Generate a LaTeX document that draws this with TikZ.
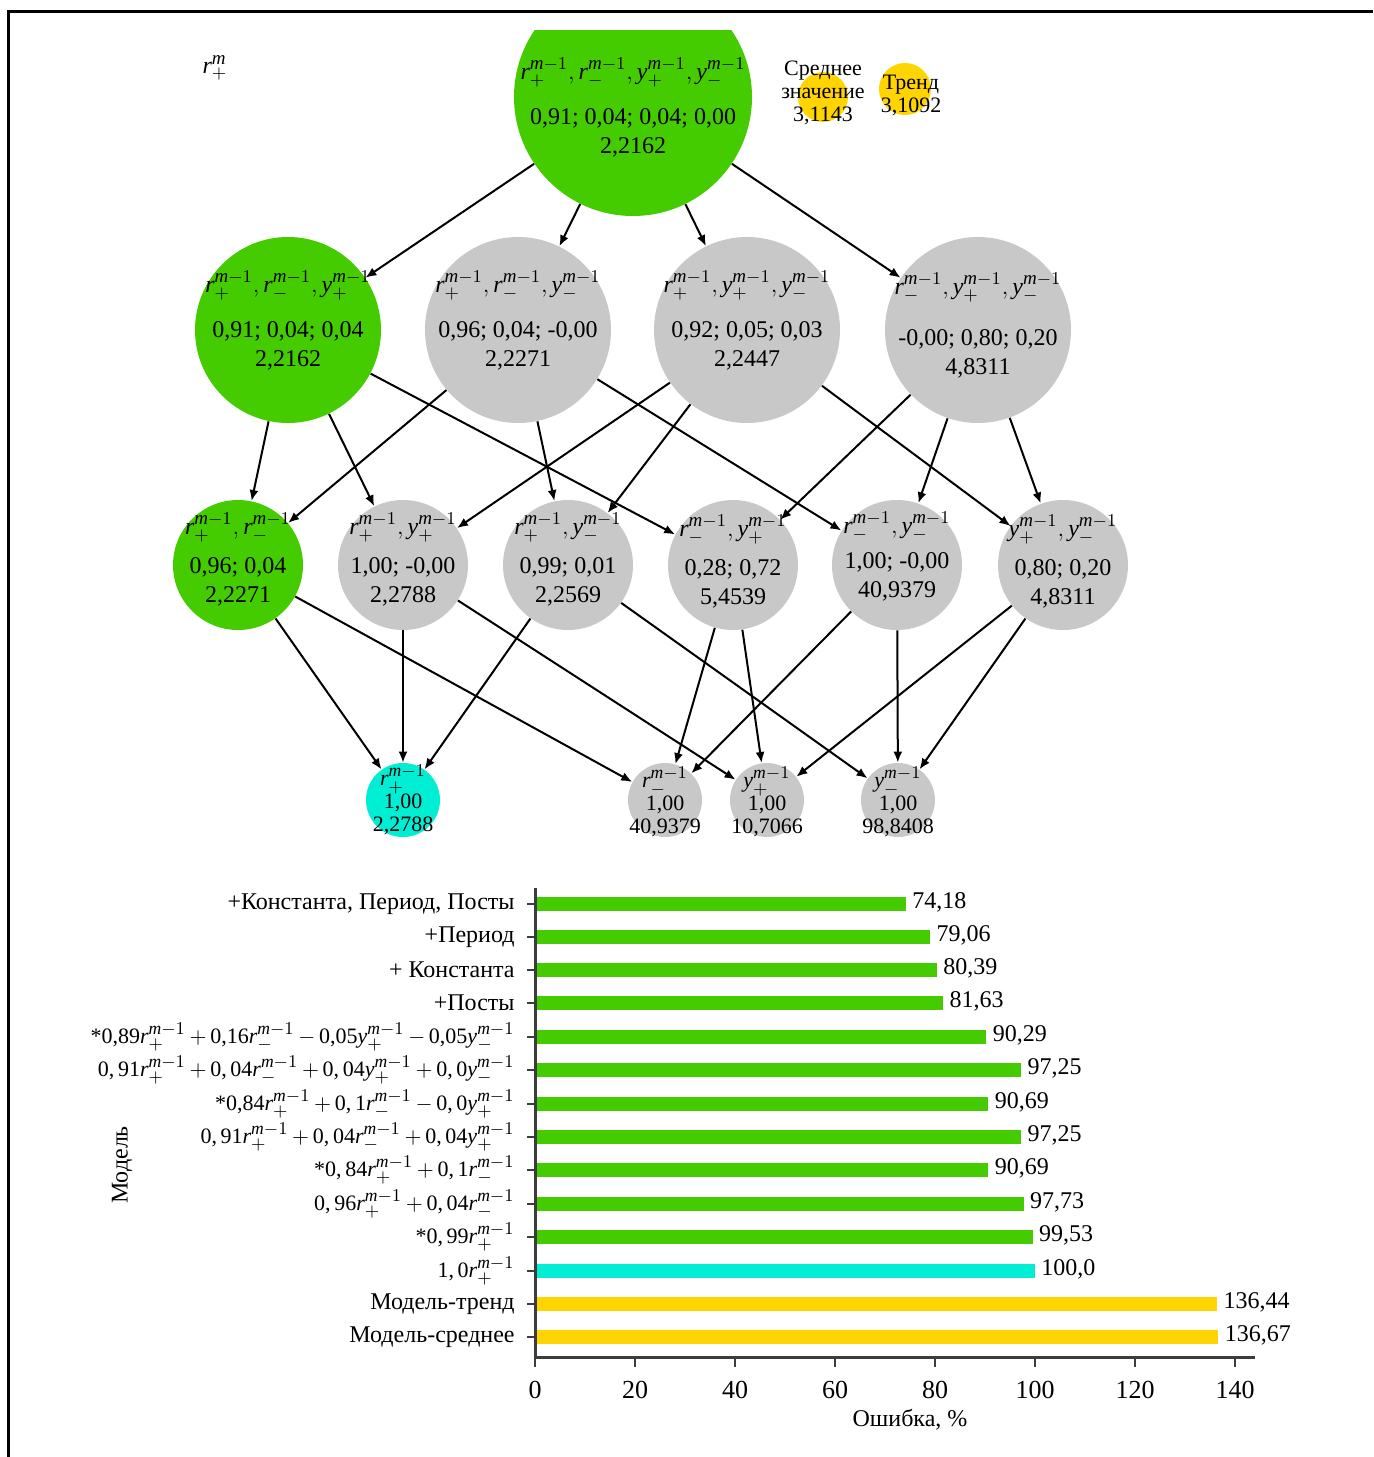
\documentclass[tikz,border=0pt]{standalone}
\usepackage{fontspec}
\setmainfont{Liberation Serif}
\usetikzlibrary{arrows.meta}
\DeclareMathSizes{12}{12}{9.5}{7}
\DeclareMathSizes{11}{11}{8.8}{6.5}
\definecolor{ngreen}{RGB}{68,204,0}
\definecolor{ngray}{RGB}{200,200,200}
\definecolor{ncyan}{RGB}{0,238,212}
\definecolor{nyellow}{RGB}{255,212,0}
\definecolor{axisgray}{RGB}{60,60,60}
% lagged variable: letter, sign
\newcommand\pv[2]{\mathit{#1}_{#2}^{\mathit{m}-1}}
% coefficient set in the text font
\newcommand\nm[1]{\mbox{#1}}
\newcommand\tightops{\medmuskip=3mu\relax}
% size of the formula labels of the chart
\newcommand\ml{\fontsize{11}{13}\selectfont}
\begin{document}
\begin{tikzpicture}[x=0.5pt,y=-0.5pt,
  every node/.style={inner sep=0pt},
  c1/.style={circle,minimum size=119pt},
  c2/.style={circle,minimum size=93pt},
  c3/.style={circle,minimum size=65pt},
  c4/.style={circle,minimum size=37pt},
  txt/.style={align=center,font=\fontsize{12}{14.5}\selectfont},
  txts/.style={align=center,font=\fontsize{11}{11.5}\selectfont},
  edge/.style={line width=1pt,-{Latex[length=5.5pt,width=4.5pt]}},
  lbl/.style={anchor=east,font=\fontsize{12}{14}\selectfont\tightops},
  val/.style={anchor=west,font=\fontsize{12}{14}\selectfont},
  tick/.style={font=\fontsize{13}{15}\selectfont},
]
\useasboundingbox (0,0) rectangle (1373,1457);
% frame
\draw[line width=1.5pt] (8,1457) -- (8,11) -- (1373,11);

% ---------- lattice of models ----------
\node[font=\fontsize{12}{14}\selectfont] (rm) at (215,68) {$\mathit{r}_+^{\mathit{m}}$};

\begin{scope}
  \clip (0,30) rectangle (1373,1457);
  \node[c1,fill=ngreen] (top) at (633,97) {};
\end{scope}
\node[txt] (top-t) at (633,108) {$\pv r+, \pv r-, \pv y+, \pv y-$\\[8pt] 0,91; 0,04; 0,04; 0,00\\ 2,2162};

\node[circle,minimum size=25pt,fill=nyellow] (avg) at (823,97) {};
\node[txts] (avg-t) at (823,93) {Среднее\\ значение\\ 3,1143};
\node[circle,minimum size=26pt,fill=nyellow] (trend) at (905,89) {};
\node[txts] (trend-t) at (911,95) {Тренд\\ 3,1092};

% second level
\node[c2,fill=ngreen] (A) at (288,330) {};
\node[c2,fill=ngray] (B) at (518,330) {};
\node[c2,fill=ngray] (C) at (747,330) {};
\node[c2,fill=ngray] (D) at (978,330) {};
\node[txt] (A-t) at (288,321) {$\pv r+,\pv r-,\pv y+$\\[8pt] 0,91; 0,04; 0,04\\ 2,2162};
\node[txt] (B-t) at (518,321) {$\pv r+,\pv r-,\pv y-$\\[8pt] 0,96; 0,04; -0,00\\ 2,2271};
\node[txt] (C-t) at (747,321) {$\pv r+,\pv y+,\pv y-$\\[8pt] 0,92; 0,05; 0,03\\ 2,2447};
\node[txt] (D-t) at (978,326) {$\pv r-,\pv y+,\pv y-$\\[11pt] -0,00; 0,80; 0,20\\ 4,8311};

% third level
\node[c3,fill=ngreen] (E) at (238,565) {};
\node[c3,fill=ngray] (F) at (403,565) {};
\node[c3,fill=ngray] (G) at (568,565) {};
\node[c3,fill=ngray] (H) at (733,565) {};
\node[c3,fill=ngray] (I) at (897,565) {};
\node[c3,fill=ngray] (J) at (1063,565) {};
\node[txt] (E-t) at (238,560) {$\pv r+,\pv r-$\\[5pt] 0,96; 0,04\\ 2,2271};
\node[txt] (F-t) at (403,560) {$\pv r+,\pv y+$\\[5pt] 1,00; -0,00\\ 2,2788};
\node[txt] (G-t) at (568,560) {$\pv r+,\pv y-$\\[5pt] 0,99; 0,01\\ 2,2569};
\node[txt] (H-t) at (733,562) {$\pv r-,\pv y+$\\[5pt] 0,28; 0,72\\ 5,4539};
\node[txt] (I-t) at (897,557) {$\pv r-,\pv y-$\\[3pt] 1,00; -0,00\\ 40,9379};
\node[txt] (J-t) at (1063,562) {$\pv y+,\pv y-$\\[5pt] 0,80; 0,20\\ 4,8311};

% fourth level
\node[c4,fill=ncyan] (K) at (403,800) {};
\node[c4,fill=ngray] (L) at (665,800) {};
\node[c4,fill=ngray] (M) at (767,800) {};
\node[c4,fill=ngray] (N) at (898,800) {};
\node[txts] (K-t) at (403,800) {$\pv r+$\\ 1,00\\ 2,2788};
\node[txts] (L-t) at (665,802) {$\pv r-$\\ 1,00\\ 40,9379};
\node[txts] (M-t) at (767,802) {$\pv y+$\\ 1,00\\ 10,7066};
\node[txts] (N-t) at (898,802) {$\pv y-$\\ 1,00\\ 98,8408};

% connections
\foreach \a/\b in {top/A,top/B,top/C,top/D,
  A/E,A/F,A/H, B/E,B/G,B/I, C/F,C/G,C/J, D/H,D/I,D/J,
  E/K,E/L, F/K,F/M, G/K,G/N, H/L,H/M, I/L,I/N, J/M,J/N}
  \draw[edge] (\a) -- (\b);

% ---------- error chart ----------
\foreach \y/\v/\c/\t/\s [count=\i] in {
  904/74.18/ngreen/{+Константа, Период, Посты}/{74,18},
  937/79.06/ngreen/{+Период}/{79,06},
  970/80.39/ngreen/{+ Константа}/{80,39},
  1003/81.63/ngreen/{+Посты}/{81,63},
  1037/90.29/ngreen/{\ml$\nm{*0,89}\pv r+ + \nm{0,16}\pv r- - \nm{0,05}\pv y+ - \nm{0,05}\pv y-$}/{90,29},
  1070/97.25/ngreen/{\ml$\nm{0,\,91}\pv r+ + \nm{0,\,04}\pv r- + \nm{0,\,04}\pv y+ + \nm{0,\,0}\pv y-$}/{97,25},
  1104/90.69/ngreen/{\ml$\nm{*0,84}\pv r+ + \nm{0,\,1}\pv r- - \nm{0,\,0}\pv y+$}/{90,69},
  1137/97.25/ngreen/{\ml$\nm{0,\,91}\pv r+ + \nm{0,\,04}\pv r- + \nm{0,\,04}\pv y+$}/{97,25},
  1170/90.69/ngreen/{\ml$\nm{*0,\,84}\pv r+ + \nm{0,\,1}\pv r-$}/{90,69},
  1204/97.73/ngreen/{\ml$\nm{0,\,96}\pv r+ + \nm{0,\,04}\pv r-$}/{97,73},
  1237/99.53/ngreen/{\ml$\nm{*0,\,99}\pv r+$}/{99,53},
  1271/100/ncyan/{\ml$\nm{1,\,0}\pv r+$}/{100,0},
  1304/136.44/nyellow/{Модель-тренд}/{136,44},
  1337/136.67/nyellow/{Модель-среднее}/{136,67}} {
  \fill[\c] (535,\y-7) rectangle ({535+5*\v},\y+7);
  \draw[axisgray,line width=1.4pt] (527,\y) -- (535,\y);
  \node[lbl] (bl\i) at (515,\y) {\t};
  \node[val] (bv\i) at ({541+5*\v},\y-2) {\s};
}
% axes
\draw[axisgray,line width=1.5pt] (535,888) -- (535,1357) -- (1255,1357);
\foreach \v [count=\i] in {0,20,...,140} {
  \draw[axisgray,line width=1.4pt] ({535+5*\v},1357) -- ({535+5*\v},1367);
  \node[tick] (xt\i) at ({535+5*\v},1390) {\v};
}
\node[font=\fontsize{12}{14}\selectfont] (xlab) at (910,1420) {Ошибка, \%};
\node[font=\fontsize{12}{14}\selectfont,rotate=90] (ylab) at (122,1165) {Модель};
\end{tikzpicture}
\end{document}
